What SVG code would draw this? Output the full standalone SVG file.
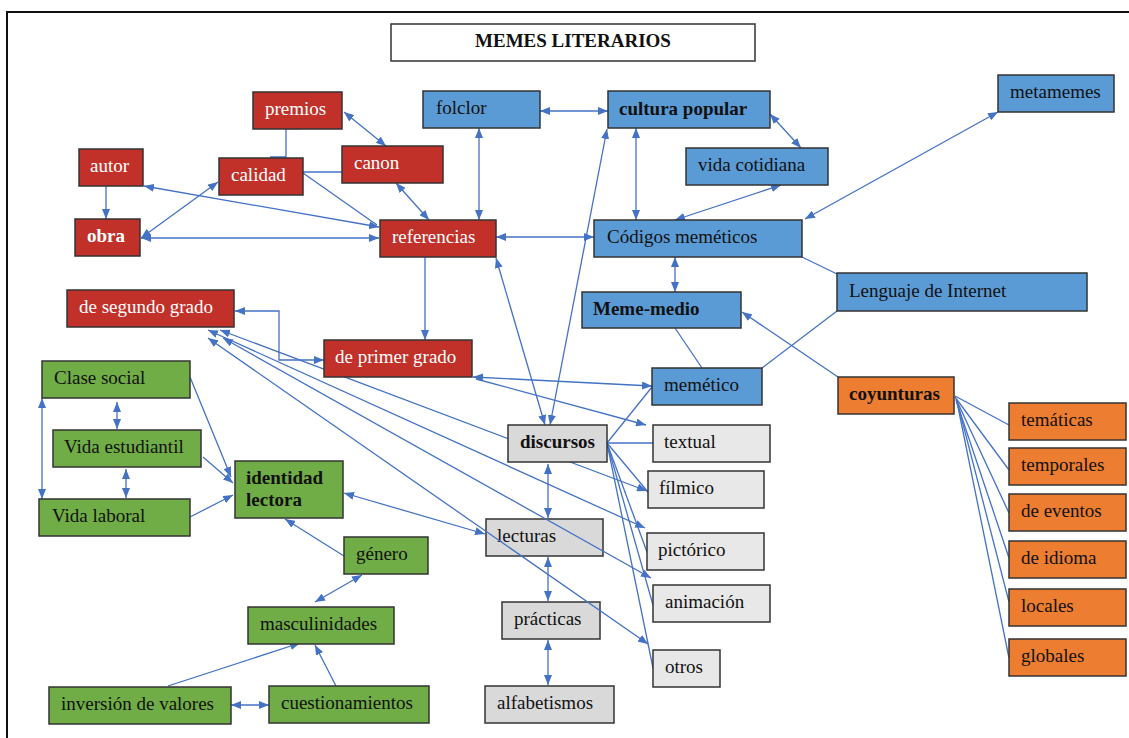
<svg xmlns="http://www.w3.org/2000/svg" width="1129" height="738" viewBox="0 0 1129 738">
<style>
.n rect{stroke:#333;stroke-width:1.5}
.r rect{fill:#C1312A}
.b rect{fill:#5B9BD5}
.g rect{fill:#70AD47}
.o rect{fill:#ED7D31}
.d rect{fill:#D9D9D9}
.l rect{fill:#E8E8E8}
text{font-family:"Liberation Serif","Times New Roman",serif;font-size:19px;fill:#111}
.r text{fill:#fff}
.bd{font-weight:bold}
#connectors path,#connectors polyline{fill:none;stroke:#4472C4;stroke-width:1.3}
.e{marker-end:url(#a)}
.s{marker-start:url(#a);marker-end:url(#a)}
</style>
<defs>
<marker id="a" viewBox="0 0 10 8" refX="10" refY="4" markerWidth="10" markerHeight="8" markerUnits="userSpaceOnUse" orient="auto-start-reverse"><path d="M0,0L10,4L0,8z" fill="#4472C4"/></marker>
</defs>
<rect x="0" y="0" width="1129" height="738" fill="#fff"/>
<rect x="7" y="12" width="1140" height="740" fill="none" stroke="#111" stroke-width="2"/>
<g id="title"><rect x="391" y="24" width="364" height="37" fill="#fff" stroke="#333" stroke-width="1.5"/><text x="573" y="47" text-anchor="middle" class="bd">MEMES LITERARIOS</text></g>
<g id="lecturas" class="n d"><rect x="486" y="519" width="117" height="37"/><text x="497" y="542">lecturas</text></g>
<g id="practicas" class="n d"><rect x="502" y="602" width="98" height="37"/><text x="514" y="625">prácticas</text></g>
<g id="connectors">
<path class="s" d="M344,112L386,146"/>
<polyline points="302,128.5 286,128.5 286,157 270,157"/>
<path class="e" d="M106,186L106,219"/>
<path class="s" d="M141,238L218,182"/>
<path class="s" d="M141,238L379,238"/>
<path class="s" d="M144,186L379,227"/>
<path d="M303,173L377,225"/>
<path d="M303,172L342,172"/>
<path class="s" d="M396,183L429,220"/>
<path class="s" d="M479,128L479,220"/>
<path class="s" d="M540,111L608,111"/>
<path class="s" d="M770,114L801,148"/>
<path class="s" d="M636,128L636,220"/>
<path class="s" d="M781,185L675,220"/>
<path class="s" d="M998,112L805,219"/>
<path class="s" d="M496,237L594,237"/>
<path class="s" d="M675,257L675,292"/>
<path d="M802,257L837,274"/>
<path d="M837,311L762,368"/>
<path d="M675,328L702,368"/>
<path class="e" d="M838,377L742,312"/>
<path d="M955,396L1009,425"/>
<path d="M955,397L1009,470"/>
<path d="M956,399L1009,513"/>
<path d="M956,400L1009,558"/>
<path d="M957,401L1009,602"/>
<path d="M957,402L1009,658"/>
<path class="e" d="M425,257L425,340"/>
<polyline class="s" points="235,311 279,311 279,360 324,360"/>
<path class="s" d="M496,258L545,425"/>
<path class="s" d="M607,129L550,425"/>
<path class="s" d="M473,377L652,386"/>
<path class="e" d="M476,379L646,425"/>
<path d="M607,443L652,387"/>
<path d="M607,443L653,443"/>
<path d="M607,443L648,492"/>
<path d="M607,443L647,552"/>
<path d="M607,443L653,605"/>
<path d="M607,443L653,668"/>
<path class="s" d="M220,330L647,491"/>
<path class="s" d="M208,330L645,528"/>
<path class="s" d="M223,338L651,578"/>
<path class="s" d="M208,338L648,644"/>
<path class="e" d="M190,377L231,477"/>
<path class="e" d="M203,457L233,483"/>
<path class="e" d="M190,517L233,495"/>
<path class="s" d="M117,402L117,429"/>
<path class="s" d="M126,469L126,498"/>
<path class="s" d="M42,398L42,499"/>
<path class="s" d="M344,493L485,534"/>
<path class="e" d="M344,556L285,519"/>
<path class="s" d="M362,575L315,602"/>
<path class="e" d="M168,686L300,643"/>
<path class="e" d="M336,686L315,645"/>
<path class="s" d="M231,705L269,705"/>
<path class="s" d="M548,464L548,518"/>
<path class="s" d="M548,557L548,601"/>
<path class="s" d="M548,640L548,685"/>
</g>
<g id="premios" class="n r"><rect x="253" y="92" width="89" height="37"/><text x="265" y="115">premios</text></g>
<g id="autor" class="n r"><rect x="79" y="149" width="64" height="37"/><text x="90" y="172">autor</text></g>
<g id="calidad" class="n r"><rect x="219" y="158" width="84" height="37"/><text x="231" y="181">calidad</text></g>
<g id="canon" class="n r"><rect x="342" y="146" width="101" height="37"/><text x="354" y="169">canon</text></g>
<g id="obra" class="n r"><rect x="75" y="219" width="65" height="37"/><text x="87" y="242" class="bd">obra</text></g>
<g id="referencias" class="n r"><rect x="380" y="220" width="116" height="37"/><text x="392" y="243">referencias</text></g>
<g id="segundo" class="n r"><rect x="67" y="290" width="167" height="37"/><text x="79" y="313">de segundo grado</text></g>
<g id="primer" class="n r"><rect x="324" y="340" width="148" height="37"/><text x="335" y="363">de primer grado</text></g>
<g id="folclor" class="n b"><rect x="423" y="91" width="117" height="37"/><text x="436" y="114">folclor</text></g>
<g id="cultura" class="n b"><rect x="608" y="91" width="162" height="37"/><text x="619" y="115" class="bd">cultura popular</text></g>
<g id="cotidiana" class="n b"><rect x="686" y="148" width="142" height="37"/><text x="698" y="171">vida cotidiana</text></g>
<g id="metamemes" class="n b"><rect x="998" y="75" width="116" height="37"/><text x="1010" y="98">metamemes</text></g>
<g id="codigos" class="n b"><rect x="594" y="220" width="208" height="37"/><text x="607" y="243">Códigos meméticos</text></g>
<g id="lenguaje" class="n b"><rect x="837" y="273" width="250" height="38"/><text x="849" y="297">Lenguaje de Internet</text></g>
<g id="mememedio" class="n b"><rect x="582" y="292" width="159" height="36"/><text x="593" y="315" class="bd">Meme-medio</text></g>
<g id="memetico" class="n b"><rect x="652" y="368" width="110" height="37"/><text x="664" y="391">memético</text></g>
<g id="coyunturas" class="n o"><rect x="838" y="377" width="116" height="37"/><text x="849" y="400" class="bd">coyunturas</text></g>
<g id="tematicas" class="n o"><rect x="1009" y="403" width="117" height="37"/><text x="1021" y="426">temáticas</text></g>
<g id="temporales" class="n o"><rect x="1009" y="448" width="117" height="37"/><text x="1021" y="471">temporales</text></g>
<g id="eventos" class="n o"><rect x="1009" y="494" width="117" height="37"/><text x="1021" y="517">de eventos</text></g>
<g id="idioma" class="n o"><rect x="1009" y="541" width="117" height="37"/><text x="1021" y="564">de idioma</text></g>
<g id="locales" class="n o"><rect x="1009" y="589" width="117" height="37"/><text x="1021" y="612">locales</text></g>
<g id="globales" class="n o"><rect x="1009" y="639" width="117" height="37"/><text x="1021" y="662">globales</text></g>
<g id="discursos" class="n d"><rect x="508" y="425" width="99" height="37"/><text x="520" y="448" class="bd">discursos</text></g>
<g id="alfabetismos" class="n d"><rect x="485" y="686" width="129" height="37"/><text x="497" y="709">alfabetismos</text></g>
<g id="textual" class="n l"><rect x="653" y="425" width="117" height="37"/><text x="664" y="448">textual</text></g>
<g id="filmico" class="n l"><rect x="648" y="471" width="116" height="37"/><text x="659" y="494">fílmico</text></g>
<g id="pictorico" class="n l"><rect x="647" y="533" width="117" height="37"/><text x="658" y="556">pictórico</text></g>
<g id="animacion" class="n l"><rect x="653" y="585" width="117" height="37"/><text x="665" y="608">animación</text></g>
<g id="otros" class="n l"><rect x="653" y="650" width="67" height="37"/><text x="665" y="673">otros</text></g>
<g id="clase" class="n g"><rect x="42" y="361" width="148" height="37"/><text x="54" y="384">Clase social</text></g>
<g id="estudiantil" class="n g"><rect x="53" y="430" width="148" height="37"/><text x="64" y="453">Vida estudiantil</text></g>
<g id="laboral" class="n g"><rect x="39" y="499" width="151" height="37"/><text x="52" y="522">Vida laboral</text></g>
<g id="identidad" class="n g"><rect x="235" y="461" width="108" height="57"/><text x="246" y="484" class="bd">identidad</text><text x="246" y="506" class="bd">lectora</text></g>
<g id="genero" class="n g"><rect x="344" y="537" width="84" height="37"/><text x="356" y="560">género</text></g>
<g id="masculinidades" class="n g"><rect x="248" y="607" width="146" height="37"/><text x="260" y="630">masculinidades</text></g>
<g id="inversion" class="n g"><rect x="49" y="687" width="182" height="37"/><text x="61" y="710">inversión de valores</text></g>
<g id="cuestionamientos" class="n g"><rect x="269" y="686" width="160" height="37"/><text x="281" y="709">cuestionamientos</text></g>
</svg>
